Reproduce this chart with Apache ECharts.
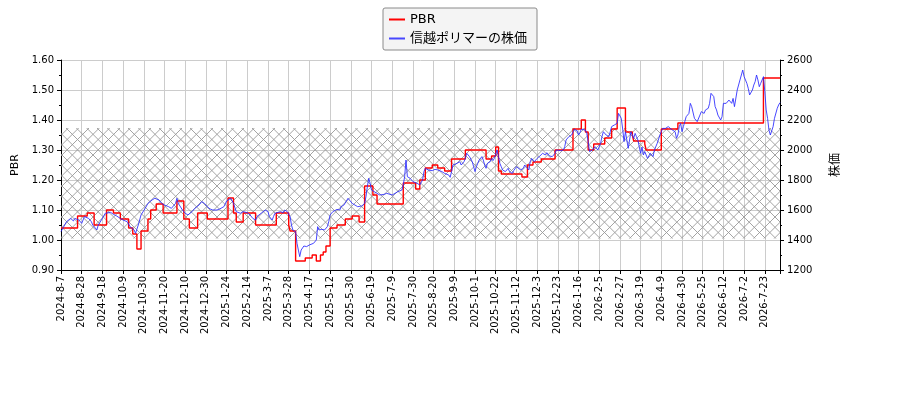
<!DOCTYPE html>
<html>
<head>
<meta charset="utf-8">
<script src="https://cdn.jsdelivr.net/npm/echarts@6/dist/echarts.min.js"></script>
<style>
html,body{margin:0;padding:0;background:#fff;}
#chart{width:900px;height:400px;}
</style>
</head>
<body>
<div id="chart"></div>
<script>
// x tick labels, one every 15 trading days
const tickLabels = ['2024-8-7','2024-8-28','2024-9-18','2024-10-9','2024-10-30','2024-11-20','2024-12-10','2024-12-30',
  '2025-1-24','2025-2-14','2025-3-7','2025-3-28','2025-4-17','2025-5-12','2025-5-30','2025-6-19','2025-7-9','2025-7-30',
  '2025-8-20','2025-9-9','2025-10-1','2025-10-22','2025-11-12','2025-12-3','2025-12-23','2026-1-16','2026-2-5','2026-2-27',
  '2026-3-19','2026-4-9','2026-4-30','2026-5-25','2026-6-12','2026-7-2','2026-7-23'];
const lastDay = 521;

// PBR: [trading day, value] at each change
const pbrSteps = [[0,1.04],[12,1.08],[19,1.09],[24,1.05],[33,1.10],[38,1.09],[43,1.07],[49,1.04],[52,1.02],[55,0.97],
  [58,1.03],[63,1.07],[65,1.10],[69,1.12],[74,1.09],[84,1.13],[89,1.07],[93,1.04],[99,1.09],[106,1.07],[121,1.14],
  [125,1.09],[127,1.06],[132,1.09],[141,1.05],[156,1.09],[165,1.05],[166,1.03],[170,0.93],[177,0.94],[182,0.95],
  [185,0.93],[188,0.95],[190,0.96],[192,0.98],[195,1.04],[200,1.05],[206,1.07],[211,1.08],[216,1.06],[220,1.18],
  [226,1.15],[229,1.12],[248,1.19],[257,1.17],[260,1.20],[264,1.24],[269,1.25],[273,1.24],[278,1.23],[283,1.27],
  [293,1.30],[308,1.27],[312,1.28],[315,1.31],[317,1.23],[319,1.22],[334,1.21],[338,1.25],[342,1.26],[348,1.27],
  [358,1.30],[371,1.37],[377,1.40],[380,1.36],[382,1.30],[386,1.32],[394,1.34],[399,1.37],[403,1.44],[409,1.36],
  [414,1.35],[415,1.33],[423,1.32],[424,1.30],[435,1.37],[447,1.39],[509,1.54],[521,1.54]];

// 株価: [trading day, price]
const priceDays = [[0,1456],[4,1522],[7,1544],[9,1527],[10,1544],[13,1533],[15,1511],[17,1556],[20,1544],[22,1522],
  [23,1500],[26,1467],[27,1500],[30,1544],[32,1578],[33,1589],[36,1584],[38,1571],[40,1562],[43,1544],[45,1533],
  [48,1522],[50,1489],[53,1467],[54,1444],[56,1500],[58,1567],[61,1611],[63,1644],[66,1667],[68,1678],[71,1667],
  [73,1644],[75,1633],[78,1622],[80,1611],[83,1644],[84,1678],[85,1644],[88,1600],[90,1578],[92,1567],[95,1589],
  [97,1611],[100,1633],[102,1656],[104,1644],[106,1622],[108,1607],[110,1600],[113,1600],[115,1607],[118,1622],
  [120,1660],[123,1678],[125,1644],[127,1589],[130,1578],[132,1589],[135,1582],[137,1567],[139,1544],[141,1533],
  [142,1556],[143,1567],[145,1578],[148,1600],[149,1611],[150,1589],[151,1556],[153,1533],[154,1556],[155,1578],
  [156,1589],[159,1589],[161,1582],[162,1600],[164,1589],[165,1578],[166,1556],[167,1500],[168,1467],[170,1456],
  [171,1378],[172,1333],[173,1289],[174,1333],[175,1344],[176,1360],[178,1356],[180,1367],[183,1378],[185,1400],
  [186,1489],[187,1467],[189,1471],[191,1467],[193,1489],[194,1522],[195,1567],[197,1589],[200,1604],[202,1600],
  [203,1622],[205,1633],[206,1644],[208,1678],[209,1667],[211,1644],[213,1633],[215,1622],[218,1627],[220,1644],
  [221,1689],[222,1756],[223,1811],[224,1778],[225,1733],[226,1722],[229,1711],[231,1700],[234,1704],[236,1711],
  [237,1704],[240,1700],[242,1711],[244,1722],[247,1733],[248,1767],[249,1822],[250,1933],[251,1822],[253,1811],
  [255,1789],[258,1778],[260,1767],[262,1800],[263,1856],[264,1878],[266,1867],[267,1878],[269,1862],[271,1871],
  [273,1867],[276,1856],[278,1844],[281,1833],[282,1818],[283,1856],[284,1900],[287,1911],[289,1922],[290,1900],
  [292,1922],[293,1944],[294,1978],[295,1967],[296,1956],[298,1922],[299,1889],[300,1856],[301,1889],[302,1911],
  [303,1933],[304,1944],[305,1956],[306,1933],[307,1900],[308,1878],[309,1911],[311,1922],[312,1944],[313,1929],
  [314,1944],[316,2000],[317,1956],[318,1911],[319,1889],[320,1867],[322,1856],[323,1867],[324,1878],[325,1856],
  [327,1844],[328,1862],[329,1867],[330,1889],[331,1878],[333,1867],[334,1856],[335,1878],[336,1900],[337,1889],
  [339,1867],[340,1922],[341,1944],[342,1956],[343,1922],[345,1944],[346,1956],[347,1960],[348,1951],[349,1978],
  [351,1967],[352,1982],[353,1989],[354,1960],[356,1956],[357,1967],[358,1978],[359,2000],[360,2011],[362,1996],
  [363,2000],[364,2000],[365,2022],[366,2067],[368,2089],[369,2078],[370,2100],[371,2111],[372,2138],[374,2129],
  [375,2100],[376,2116],[377,2138],[378,2144],[380,2133],[381,2111],[382,2056],[383,1989],[385,2000],[386,2011],
  [387,2022],[388,2011],[389,2000],[391,2044],[392,2089],[393,2122],[394,2133],[395,2100],[397,2089],[398,2122],
  [399,2156],[400,2144],[401,2167],[403,2178],[404,2244],[405,2233],[406,2211],[407,2140],[408,2056],[409,2122],
  [410,2067],[411,2011],[412,2067],[413,2122],[414,2100],[415,2078],[416,2111],[417,2089],[418,2067],[419,2022],
  [420,1978],[421,2020],[422,1967],[423,1989],[424,1978],[425,1944],[426,1933],[427,1978],[429,1956],[430,2000],
  [431,2011],[432,2044],[434,2100],[435,2122],[436,2144],[437,2133],[438,2144],[439,2133],[440,2156],[441,2144],
  [443,2133],[444,2144],[445,2122],[446,2078],[447,2100],[448,2156],[449,2178],[450,2122],[451,2156],[452,2189],
  [453,2222],[454,2233],[455,2244],[456,2311],[457,2289],[458,2278],[459,2211],[461,2189],[462,2200],[463,2233],
  [464,2256],[466,2244],[467,2267],[468,2256],[469,2278],[470,2311],[471,2378],[473,2356],[474,2289],[475,2267],
  [476,2233],[477,2222],[478,2200],[479,2222],[480,2311],[481,2322],[482,2311],[484,2333],[485,2322],[486,2311],
  [487,2344],[488,2289],[490,2400],[491,2411],[492,2467],[493,2500],[494,2533],[495,2489],[496,2500],[497,2444],
  [498,2411],[499,2367],[501,2400],[502,2433],[503,2456],[504,2500],[505,2467],[506,2422],[507,2444],[508,2456],
  [509,2489],[510,2389],[511,2267],[512,2211],[513,2133],[514,2100],[515,2111],[516,2156],[517,2211],[519,2278],
  [520,2300],[521,2316]];

// hatched PBR band
const bandLow = 1.005;
const bandHigh = 1.373;

function hatchPattern(){
    const c = document.createElement('canvas');
    c.width = 31; c.height = 31;
    const g = c.getContext('2d');
    const p = 31/3;
    g.strokeStyle = '#9a9a9a';
    g.lineWidth = 0.9;
    g.beginPath();
    for (let k=-3;k<=3;k++){
        g.moveTo(k*p,0); g.lineTo(k*p+31,31);
        g.moveTo(k*p,31); g.lineTo(k*p+31,0);
    }
    g.stroke();
    return c;
}

const gridColor = '#cccccc';
const chart = echarts.init(document.getElementById('chart'));
chart.setOption({
    animation:false,
    textStyle:{fontFamily:'DejaVu Sans, "Noto Sans CJK JP", sans-serif'},
    legend:{
        orient:'vertical',
        left:383,
        top:8,
        data:['PBR','信越ポリマーの株価'],
        icon:'rect',
        itemWidth:16,
        itemHeight:2,
        itemGap:6,
        padding:[5,10,5,6],
        backgroundColor:'#f4f4f4',
        borderColor:'#8a8a8a',
        borderWidth:1,
        borderRadius:2,
        textStyle:{fontSize:13,color:'#000'}
    },
    grid:{left:61,right:120,top:60,bottom:130,containLabel:false},
    xAxis:{
        type:'value',
        min:0,
        max:lastDay,
        interval:15,
        axisLine:{show:true,lineStyle:{color:'#000',width:1}},
        axisTick:{show:true,length:4,lineStyle:{color:'#000'}},
        splitLine:{show:true,lineStyle:{color:gridColor,width:1}},
        axisLabel:{
            rotate:90,
            fontSize:10,
            color:'#000',
            margin:6,
            showMinLabel:true,
            formatter:function(v){
                return v%15===0 && tickLabels[v/15] ? tickLabels[v/15] : '';
            }
        }
    },
    yAxis:[{
        type:'value',
        min:0.9,
        max:1.6,
        interval:0.1,
        name:'PBR',
        nameLocation:'middle',
        nameRotate:90,
        nameGap:36,
        nameTextStyle:{fontSize:11,color:'#000'},
        axisLine:{show:true,lineStyle:{color:'#000'}},
        axisTick:{show:true,length:4,lineStyle:{color:'#000'}},
        minorTick:{show:true,splitNumber:2,length:2,lineStyle:{color:'#000'}},
        splitLine:{show:true,lineStyle:{color:gridColor,width:1}},
        axisLabel:{fontSize:10,color:'#000',margin:7,formatter:function(v){return v.toFixed(2);}}
    },{
        type:'value',
        position:'right',
        min:1200,
        max:2600,
        interval:200,
        name:'株価',
        nameLocation:'middle',
        nameRotate:90,
        nameGap:50,
        nameTextStyle:{fontSize:12,color:'#000'},
        axisLine:{show:true,lineStyle:{color:'#000'}},
        axisTick:{show:true,length:4,lineStyle:{color:'#000'}},
        minorTick:{show:true,splitNumber:2,length:2,lineStyle:{color:'#000'}},
        splitLine:{show:false},
        axisLabel:{fontSize:10,color:'#000',margin:7,formatter:function(v){return String(Math.round(v));}}
    }],
    series:[{
        name:'PBR',
        type:'line',
        yAxisIndex:0,
        step:'end',
        symbol:'none',
        color:'#ff0000',
        lineStyle:{width:1.4},
        data:pbrSteps,
        markArea:{
            silent:true,
            itemStyle:{color:{image:hatchPattern(),repeat:'repeat'}},
            data:[[{xAxis:0,yAxis:bandLow},{xAxis:lastDay,yAxis:bandHigh}]]
        }
    },{
        name:'信越ポリマーの株価',
        type:'line',
        yAxisIndex:1,
        symbol:'none',
        color:'rgba(40,40,255,0.85)',
        lineStyle:{width:1},
        data:priceDays
    }]
});
</script>
</body>
</html>
